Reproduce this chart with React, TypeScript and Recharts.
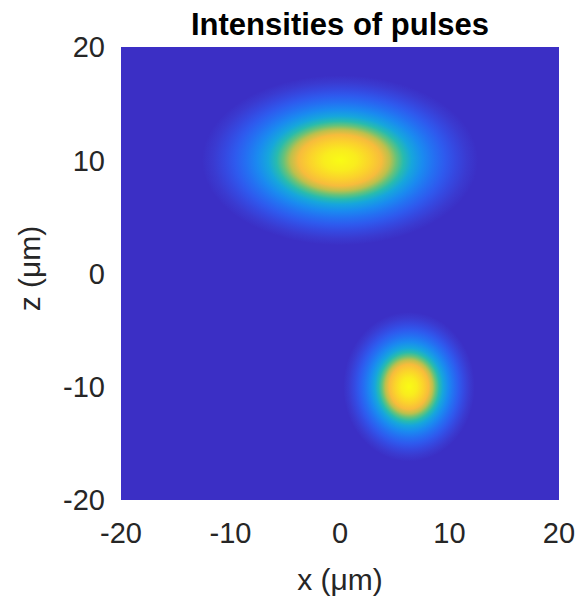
import React from 'react';
import { ScatterChart, Scatter, XAxis, YAxis, ReferenceArea } from 'recharts';

// ---- data ----
const xTicks = [-20, -10, 0, 10, 20];
const zTicks = [-20, -10, 0, 10, 20];
const xDomain = [-20, 20];
const zDomain = [-20, 20];
const pulseNames = ['pulse 1', 'pulse 2'];
const pulseCenterX = [0, 6.3];
const pulseCenterZ = [10, -10];
const pulseSigmaX = [4.2, 2.0];
const pulseSigmaZ = [2.5, 2.2];
const extentInSigma = 3;

// ---- style ----
const BG = '#3B2FC5';
const FONT = '"Liberation Sans", Arial, Helvetica, sans-serif';
const gradientStops: [number, string][] = [
  [0, '#F9FB15'],
  [0.12, '#F9EC1E'],
  [0.22, '#FBD22C'],
  [0.3, '#F7BC3C'],
  [0.36, '#BDC04C'],
  [0.41, '#66C27A'],
  [0.46, '#28BBAE'],
  [0.52, '#16A6DC'],
  [0.6, '#1A8AF0'],
  [0.68, '#2470F2'],
  [0.76, '#2E5AEE'],
  [0.84, '#3548E0'],
  [0.92, '#3A3AD0'],
  [1, BG],
];

const pulses = pulseNames.map((name, i) => ({
  name,
  x: pulseCenterX[i],
  z: pulseCenterZ[i],
  sx: pulseSigmaX[i],
  sz: pulseSigmaZ[i],
}));

const makePulseShape = (id: string) => (props: any) => {
  const { x, y, width, height } = props;
  return (
    <g>
      <defs>
        <radialGradient id={id} cx="50%" cy="50%" r="50%">
          {gradientStops.map(([o, c]) => (
            <stop key={o} offset={o} stopColor={c} stopOpacity={1} />
          ))}
        </radialGradient>
      </defs>
      <ellipse
        cx={x + width / 2}
        cy={y + height / 2}
        rx={width / 2}
        ry={height / 2}
        fill={`url(#${id})`}
      />
    </g>
  );
};

const YLabel = (props: any) => {
  const vb = props.viewBox || {};
  const cx = vb.x + 40;
  const cy = vb.y + vb.height / 2 - 5;
  return (
    <text
      x={cx}
      y={cy}
      transform={`rotate(-90, ${cx}, ${cy})`}
      textAnchor="middle"
      fontSize={30}
      fontFamily={FONT}
      fill="#262626"
    >
      z (μm)
    </text>
  );
};

const XLabel = (props: any) => {
  const vb = props.viewBox || {};
  return (
    <text
      x={vb.x + vb.width / 2}
      y={vb.y + 90}
      textAnchor="middle"
      fontSize={30}
      fontFamily={FONT}
      fill="#262626"
    >
      x (μm)
    </text>
  );
};

export default function App() {
  return (
    <div style={{ position: 'absolute', left: 0, top: 0 }}>
      <ScatterChart
        width={577}
        height={597}
        margin={{ top: 47, right: 18, bottom: 0, left: 0 }}
      >
        <XAxis
          type="number"
          dataKey="x"
          domain={xDomain}
          ticks={xTicks}
          allowDataOverflow
          axisLine={false}
          tickLine={false}
          tickSize={8}
          tickMargin={14}
          height={97}
          tick={{ fontSize: 29, fontFamily: FONT, fill: '#262626' }}
          label={<XLabel />}
        />
        <YAxis
          type="number"
          dataKey="z"
          domain={zDomain}
          ticks={zTicks}
          allowDataOverflow
          axisLine={false}
          tickLine={false}
          tickSize={8}
          tickMargin={8}
          width={121}
          tick={{ fontSize: 29, fontFamily: FONT, fill: '#262626' }}
          label={<YLabel />}
        />
        <ReferenceArea
          x1={xDomain[0]}
          x2={xDomain[1]}
          y1={zDomain[0]}
          y2={zDomain[1]}
          fill={BG}
          fillOpacity={1}
          stroke="none"
          label={{
            value: 'Intensities of pulses',
            position: 'top',
            offset: 12,
            fontSize: 31,
            fontWeight: 'bold',
            fontFamily: FONT,
            fill: '#000000',
          }}
        />
        {pulses.map((p, i) => (
          <ReferenceArea
            key={p.name}
            x1={p.x - extentInSigma * p.sx}
            x2={p.x + extentInSigma * p.sx}
            y1={p.z - extentInSigma * p.sz}
            y2={p.z + extentInSigma * p.sz}
            shape={makePulseShape(`pulseGrad${i}`)}
          />
        ))}
        <Scatter
          data={pulses}
          isAnimationActive={false}
          shape={() => <g />}
        />
      </ScatterChart>
    </div>
  );
}
